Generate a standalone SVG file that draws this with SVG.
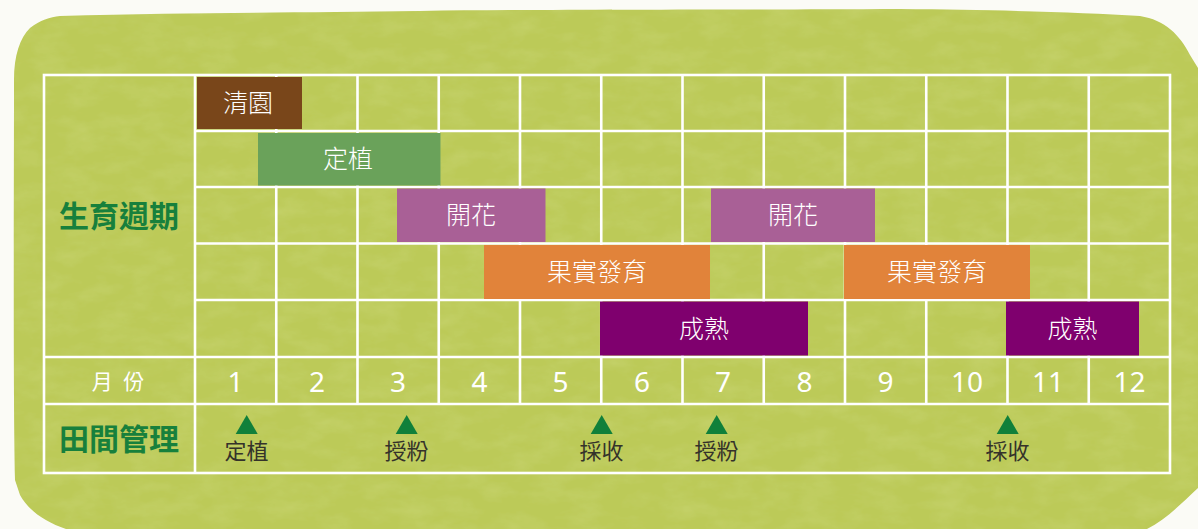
<svg xmlns="http://www.w3.org/2000/svg" width="1198" height="529" viewBox="0 0 1198 529">
<defs>
<filter id="tex" x="0" y="0" width="100%" height="100%">
<feTurbulence type="fractalNoise" baseFrequency="0.03 0.06" numOctaves="4" seed="7" result="n"/>
<feColorMatrix in="n" type="matrix" values="0 0 0 0 0.62  0 0 0 0 0.70  0 0 0 0 0.20  0 0 0 -0.7 0.42" result="c"/>
<feComposite in="c" in2="SourceGraphic" operator="atop"/>
</filter>
<style>
.grid{stroke:#ffffff;stroke-width:2.6;fill:none}
.bar-t{font-family:"Noto Sans CJK TC","Noto Sans CJK SC",sans-serif;font-weight:300;font-size:25px;fill:#ffffff;text-anchor:middle}
.num{font-family:"Noto Sans","Liberation Sans",sans-serif;font-size:28px;fill:#ffffff;text-anchor:middle}
.head{font-family:"Noto Sans CJK TC","Noto Sans CJK SC",sans-serif;font-weight:bold;font-size:30px;fill:#17803c;text-anchor:middle}
.mgmt{font-family:"Noto Sans CJK TC","Noto Sans CJK SC",sans-serif;font-size:22px;fill:#34322a;text-anchor:middle}
.tri{fill:#10803a}
</style>
</defs>
<rect width="1198" height="529" fill="#fbfbf6"/>
<g id="background">
<path d="M60,16 C200,12 300,13 420,11 C560,9 700,10 900,9 C1000,10 1080,12 1140,16 C1165,20 1180,35 1190,55 L1198,68 L1198,488 C1180,505 1165,520 1147,529 L66,529 C45,522 28,510 20,495 L15,480 C13,380 14,200 14,80 C14,55 20,38 30,28 C40,20 50,17 60,16 Z" fill="#bcca58" filter="url(#tex)"/>
</g>
<g id="grid">
<rect class="grid" x="44" y="75" width="1126" height="398"/>
<line class="grid" x1="195" y1="75" x2="195" y2="473"/>
<line class="grid" x1="195" y1="131" x2="1170" y2="131"/>
<line class="grid" x1="195" y1="187" x2="1170" y2="187"/>
<line class="grid" x1="195" y1="243.5" x2="1170" y2="243.5"/>
<line class="grid" x1="195" y1="300" x2="1170" y2="300"/>
<line class="grid" x1="44" y1="357" x2="1170" y2="357"/>
<line class="grid" x1="44" y1="404" x2="1170" y2="404"/>
<line class="grid" x1="276.25" y1="75" x2="276.25" y2="404"/>
<line class="grid" x1="357.5" y1="75" x2="357.5" y2="404"/>
<line class="grid" x1="438.75" y1="75" x2="438.75" y2="404"/>
<line class="grid" x1="520" y1="75" x2="520" y2="404"/>
<line class="grid" x1="601.25" y1="75" x2="601.25" y2="404"/>
<line class="grid" x1="682.5" y1="75" x2="682.5" y2="404"/>
<line class="grid" x1="763.75" y1="75" x2="763.75" y2="404"/>
<line class="grid" x1="845" y1="75" x2="845" y2="404"/>
<line class="grid" x1="926.25" y1="75" x2="926.25" y2="404"/>
<line class="grid" x1="1007.5" y1="75" x2="1007.5" y2="404"/>
<line class="grid" x1="1088.75" y1="75" x2="1088.75" y2="404"/>
</g>
<g id="labels-left">
<text class="head" x="119" y="227">生育週期</text>
<text class="head" x="119" y="450">田間管理</text>
<text x="119.5" y="389" font-family="Noto Sans CJK TC, Noto Sans CJK SC, sans-serif" font-size="21" fill="#ffffff" text-anchor="middle" letter-spacing="3">月 份</text>
</g>
<g id="bar-qingyuan"><rect x="197" y="77" width="105" height="52" fill="#79461a"/><text class="bar-t" x="248" y="112">清園</text></g>
<g id="bar-dingzhi"><rect x="258" y="133" width="182.5" height="52.5" fill="#6aa25a"/><text class="bar-t" x="348" y="168">定植</text></g>
<g id="bar-kaihua1"><rect x="397" y="188.5" width="148.5" height="53.5" fill="#a96096"/><text class="bar-t" x="471" y="224">開花</text></g>
<g id="bar-kaihua2"><rect x="711" y="188.5" width="164" height="53.5" fill="#a96096"/><text class="bar-t" x="793" y="224">開花</text></g>
<g id="bar-guoshi1"><rect x="484" y="245" width="226" height="54" fill="#e1833a"/><text class="bar-t" x="597" y="281">果實發育</text></g>
<g id="bar-guoshi2"><rect x="844" y="245" width="186" height="54" fill="#e1833a"/><text class="bar-t" x="937" y="281">果實發育</text></g>
<g id="bar-chengshu1"><rect x="600" y="301.5" width="208" height="54" fill="#7f006e"/><text class="bar-t" x="704" y="338">成熟</text></g>
<g id="bar-chengshu2"><rect x="1006" y="301.5" width="133" height="54" fill="#7f006e"/><text class="bar-t" x="1072.5" y="338">成熟</text></g>
<g id="months">
<text class="num" x="235.6" y="392">1</text>
<text class="num" x="316.9" y="392">2</text>
<text class="num" x="398.1" y="392">3</text>
<text class="num" x="479.4" y="392">4</text>
<text class="num" x="560.6" y="392">5</text>
<text class="num" x="641.9" y="392">6</text>
<text class="num" x="723.1" y="392">7</text>
<text class="num" x="804.4" y="392">8</text>
<text class="num" x="885.6" y="392">9</text>
<text class="num" x="966.9" y="392">10</text>
<text class="num" x="1048.1" y="392">11</text>
<text class="num" x="1129.4" y="392">12</text>
</g>
<g id="mgmt-dingzhi"><polygon class="tri" points="246.7,415 257.7,434 235.7,434"/><text class="mgmt" x="246.5" y="459">定植</text></g>
<g id="mgmt-shoufen1"><polygon class="tri" points="406.7,415 417.7,434 395.7,434"/><text class="mgmt" x="406.5" y="459">授粉</text></g>
<g id="mgmt-caishou1"><polygon class="tri" points="601.7,415 612.7,434 590.7,434"/><text class="mgmt" x="601.5" y="459">採收</text></g>
<g id="mgmt-shoufen2"><polygon class="tri" points="716.7,415 727.7,434 705.7,434"/><text class="mgmt" x="716.5" y="459">授粉</text></g>
<g id="mgmt-caishou2"><polygon class="tri" points="1007.7,415 1018.7,434 996.7,434"/><text class="mgmt" x="1007.5" y="459">採收</text></g>
</svg>
